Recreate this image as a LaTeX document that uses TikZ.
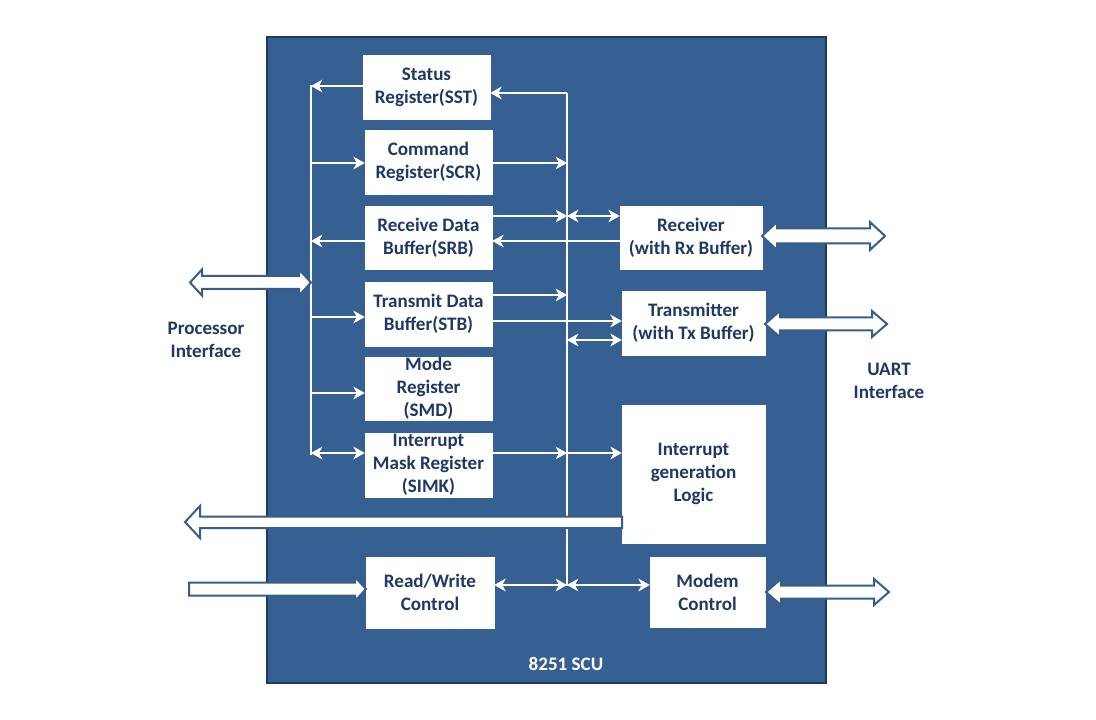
\documentclass[tikz,border=0pt]{standalone}
\usepackage{fontspec}
\setmainfont{Carlito}
\usetikzlibrary{arrows.meta,calc}
\definecolor{bg}{RGB}{55,96,146}
\definecolor{edge}{RGB}{32,56,100}
\definecolor{txt}{RGB}{31,56,100}
\definecolor{hol}{RGB}{56,93,138}
\newcommand\hdbl[6]{% x1 x2 y headlen headhalf bodyhalf
  \draw[hollow] (#1,#3) -- ({#1+#4},{#3-#5}) -- ({#1+#4},{#3-#6}) -- ({#2-#4},{#3-#6}) -- ({#2-#4},{#3-#5}) -- (#2,#3)
   -- ({#2-#4},{#3+#5}) -- ({#2-#4},{#3+#6}) -- ({#1+#4},{#3+#6}) -- ({#1+#4},{#3+#5}) -- cycle;}
\begin{document}
\begin{tikzpicture}[x=0.75pt,y=-0.75pt,
  box/.style={draw=white,fill=white,text=txt,font=\fontsize{14.3}{17.4}\selectfont\bfseries,align=center,inner sep=0pt},
  lab/.style={text=txt,font=\fontsize{14.3}{17.4}\selectfont\bfseries,align=center},
  wl/.style={draw=white,line width=1.6pt},
  tip/.tip={Stealth[length=8.5pt,width=9.5pt,inset=2.5pt]},
  arr/.style={wl,-tip},
  darr/.style={wl,tip-tip},
  hollow/.style={draw=hol,fill=white,line width=1.5pt,line join=miter}]
\useasboundingbox (0,0) rectangle (1096,720);
\fill[white] (0,0) rectangle (1096,720);
\draw[fill=bg,draw=edge,line width=1.5pt] (267,37) rectangle (826,683);

% nodes
\node[box,minimum width=127*0.75pt,minimum height=64*0.75pt] (sst) at (426.5,87) {Status\\Register(SST)};
\node[box,minimum width=127*0.75pt,minimum height=64*0.75pt] (scr) at (428.5,162) {Command\\Register(SCR)};
\node[box,minimum width=127*0.75pt,minimum height=63*0.75pt] (srb) at (428.5,237.5) {Receive Data\\Buffer(SRB)};
\node[box,minimum width=127*0.75pt,minimum height=64*0.75pt] (stb) at (428.5,314) {Transmit Data\\Buffer(STB)};
\node[box,minimum width=127*0.75pt,minimum height=63*0.75pt] (smd) at (428.5,388.5) {Mode\\Register\\(SMD)};
\node[box,minimum width=127*0.75pt,minimum height=64*0.75pt] (simk) at (428.5,465) {Interrupt\\Mask Register\\(SIMK)};
\node[box,minimum width=142*0.75pt,minimum height=63*0.75pt] (rx) at (691,237.5) {Receiver\\(with Rx Buffer)};
\node[box,minimum width=143*0.75pt,minimum height=64*0.75pt] (tx) at (693.5,323) {Transmitter\\(with Tx Buffer)};
\node[box,minimum width=143*0.75pt,minimum height=138*0.75pt] (intl) at (693.5,474) {Interrupt\\generation\\Logic};
\node[box,minimum width=128*0.75pt,minimum height=71*0.75pt] (rw) at (430,592.5) {Read/Write\\Control};
\node[box,minimum width=115*0.75pt,minimum height=70*0.75pt] (modem) at (707.5,592) {Modem\\Control};

\node[lab] (proc) at (206,340) {Processor\\Interface};
\node[lab] (uart) at (889,381) {UART\\Interface};
\node[text=white,font=\fontsize{14.3}{17}\selectfont\bfseries] (scu) at (566,664) {8251 SCU};

% buses
\coordinate (ltop) at (311,85);
\coordinate (lbot) at (311,455);
\coordinate (rtop) at (567,93);
\coordinate (rbot) at (567,586);
\draw[wl] (ltop) -- (lbot);
\draw[wl] (rbot) -- (rtop);
\draw[arr] (rtop) -- (sst.east |- rtop);

% left connectors
\draw[arr] (sst.west |- 0,86) -- (311,86);
\draw[arr] (311,163) -- (scr.west |- 0,163);
\draw[arr] (srb.west |- 0,241) -- (311,241);
\draw[arr] (311,317) -- (stb.west |- 0,317);
\draw[arr] (311,393) -- (smd.west |- 0,393);
\draw[darr] (311,453) -- (simk.west |- 0,453);

% right connectors
\draw[arr] (scr.east |- 0,163) -- (567,163);
\draw[arr] (srb.east |- 0,216) -- (567,216);
\draw[darr] (567,216) -- (rx.west |- 0,216);
\draw[arr] (rx.west |- 0,241) -- (srb.east |- 0,241);
\draw[arr] (stb.east |- 0,295) -- (567,295);
\draw[arr] (stb.east |- 0,321) -- (tx.west |- 0,321);
\draw[darr] (567,340) -- (tx.west |- 0,340);
\draw[arr] (simk.east |- 0,453) -- (567,453);
\draw[arr] (567,453) -- (intl.west |- 0,453);
\draw[darr] (rw.east |- 0,585) -- (567,585);
\draw[darr] (567,585) -- (modem.west |- 0,585);

% hollow block arrows
\hdbl{190}{311}{282.5}{12}{13}{6.5}
\draw[hollow] (185,522) -- (200,506) -- (200,516.5) -- (622,516.5) -- (622,528) -- (200,528) -- (200,538) -- cycle;
\draw[hollow] (189,582.5) -- (355,582.5) -- (355,577) -- (366,589) -- (355,601) -- (355,595.5) -- (189,595.5) -- cycle;
\hdbl{762}{885}{236}{15}{14}{7.5}
\hdbl{765}{887}{324}{15}{13}{6.5}
\hdbl{766}{889}{592}{15}{13}{6.5}
\end{tikzpicture}
\end{document}
